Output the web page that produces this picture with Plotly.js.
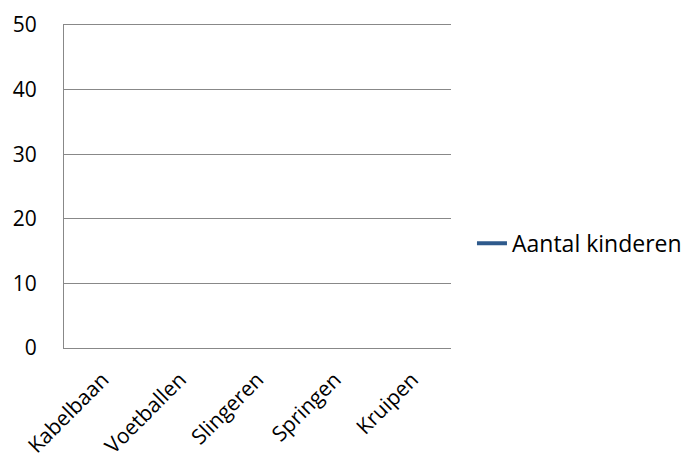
<!DOCTYPE html>
<html>
<head>
<meta charset="utf-8">
<script src="https://cdn.plot.ly/plotly-3.0.1.min.js"></script>
<style>html,body{margin:0;padding:0;background:#fff;}#chart{width:687px;height:459px;}</style>
</head>
<body>
<div id="chart"></div>
<script>
const categories = ["Kabelbaan", "Voetballen", "Slingeren", "Springen", "Kruipen"];
const seriesName = "Aantal kinderen";
const values = [null, null, null, null, null];
const yTicks = [0, 10, 20, 30, 40, 50];

const font = "'Open Sans', 'Liberation Sans', sans-serif";
Plotly.newPlot("chart", [{
  type: "scatter",
  mode: "lines",
  x: categories,
  y: values,
  name: seriesName,
  showlegend: true,
  line: {color: "#2E5A8C", width: 4}
}], {
  width: 687, height: 459,
  margin: {l: 64, r: 236, t: 25, b: 111, autoexpand: false},
  paper_bgcolor: "#fff", plot_bgcolor: "#fff",
  font: {family: font, size: 21, color: "#000"},
  showlegend: true,
  legend: {x: 0.687, xref: "container", y: 0.47, yref: "container", xanchor: "left", yanchor: "middle", itemwidth: 30, font: {size: 23}},
  xaxis: {
    type: "category", categoryarray: categories, range: [-0.5, 4.5],
    showline: true, linecolor: "#888", linewidth: 1, mirror: true,
    showgrid: false, zeroline: false, ticks: "",
    tickangle: -45, tickfont: {size: 21}, ticklabelstandoff: 10
  },
  yaxis: {
    range: [0, 50], tickvals: yTicks, ticktext: yTicks.map(String),
    showline: true, linecolor: "#888", linewidth: 1,
    showgrid: true, gridcolor: "#888", gridwidth: 1,
    zeroline: false, ticks: "", ticklabelstandoff: 22,
    tickfont: {size: 21}
  }
}, {staticPlot: true});
</script>
</body>
</html>
